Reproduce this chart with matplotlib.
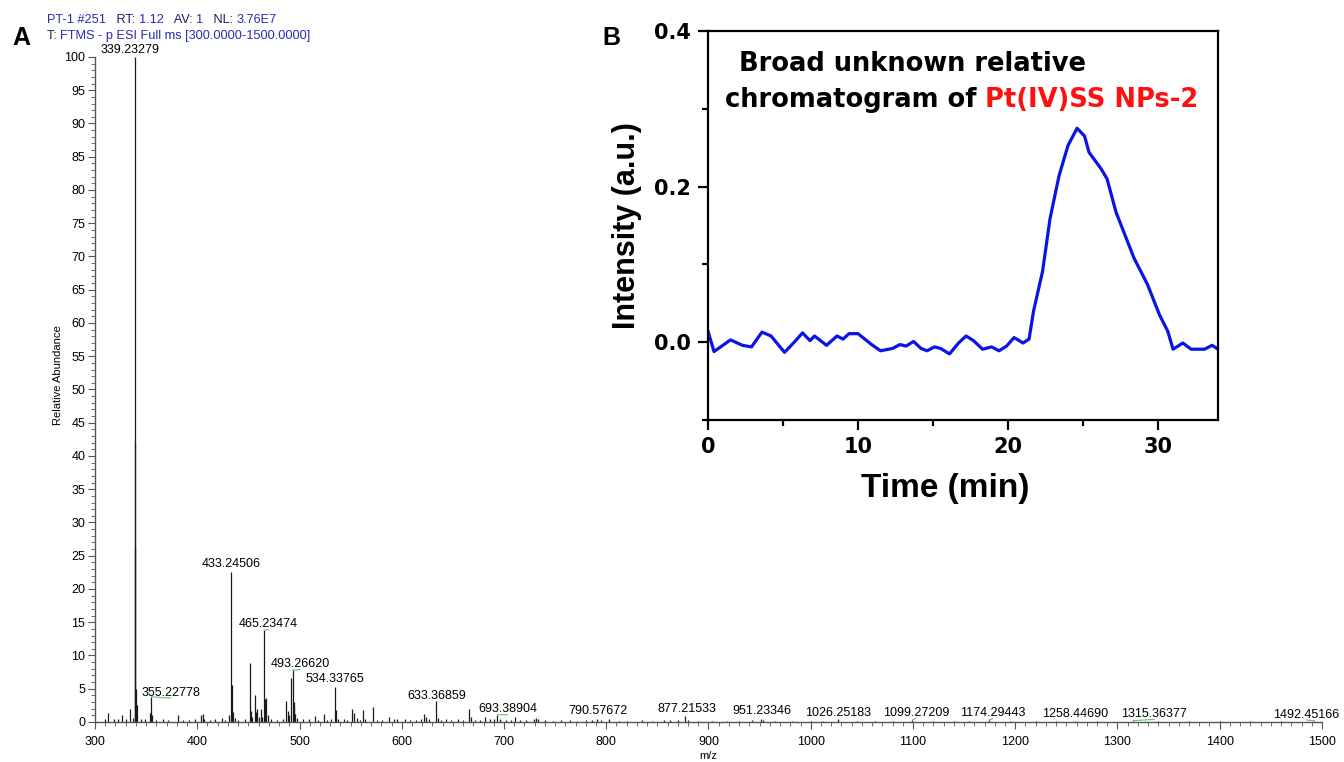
import matplotlib
matplotlib.use('Agg')
import matplotlib.pyplot as plt
from matplotlib.ticker import MultipleLocator, FormatStrFormatter


plt.rcParams['font.family'] = ['Liberation Sans', 'DejaVu Sans']

# 질량 스펙트럼 피크 (m/z, 상대 강도)
mz = [310.0, 313.0, 318.5, 322.0, 326.1, 330.0, 334.0, 337.2,
      339.233, 339.30, 339.36, 340.24, 341.0,
      345.0, 349.0, 353.6, 355.228, 356.2, 360.0, 366.0, 371.0, 380.9, 386.0, 392.0,
      397.9, 403.4, 405.3, 407.0, 412.0, 417.0, 424.6, 427.0, 431.3,
      433.245, 434.25, 435.2, 437.0, 440.0, 447.0, 451.2, 452.3, 454.0, 456.0, 457.0,
      458.4, 460.0, 461.9, 463.5, 465.235, 466.0, 467.6, 469.0, 472.0, 478.0, 484.0,
      486.8, 488.4, 490.0, 491.7, 493.266, 494.2, 495.0, 496.0, 497.5, 503.0, 509.0,
      515.0, 518.0, 524.0, 527.0, 530.5, 534.338, 535.9, 538.0, 543.5, 546.0, 551.5,
      553.0, 556.0, 559.0, 562.2, 564.0, 571.4, 576.0, 581.0, 587.6, 592.0, 595.0,
      603.0, 608.0, 614.0, 619.0, 621.8, 623.5, 627.0, 633.369, 635.0, 638.0, 643.5,
      648.0, 655.0, 660.0, 665.4, 667.3, 672.0, 677.0, 681.8, 686.5, 690.0, 693.389,
      696.0, 702.0, 707.0, 710.6, 716.0, 722.0, 729.5, 731.5, 733.5, 740.0, 748.0,
      756.0, 764.5, 771.0, 780.0, 786.0, 790.577, 795.0, 803.0, 812.0, 820.0, 834.6,
      845.0, 856.0, 862.0, 870.0, 877.215, 880.0, 890.0, 903.0, 918.0, 930.0, 943.0,
      951.233, 953.0, 965.0, 982.0, 1000.0, 1012.0, 1026.252, 1045.0, 1063.0, 1080.0,
      1099.272, 1120.0, 1140.0, 1155.0, 1174.294, 1195.0, 1220.0, 1240.0, 1258.447,
      1280.0, 1315.364, 1340.0, 1370.0, 1400.0, 1430.0, 1460.0, 1492.452]
abundance = [0.4, 1.3, 0.4, 0.5, 1.0, 0.4, 2.0, 0.6,
             100.0, 42.1, 26.1, 5.0, 2.5,
             0.4, 0.5, 1.3, 3.8, 1.0, 0.3, 0.4, 0.3, 1.0, 0.3, 0.3,
             0.5, 1.0, 1.2, 0.4, 0.3, 0.4, 0.6, 0.3, 1.0,
             22.6, 5.6, 1.5, 0.6, 0.3, 0.4, 8.9, 1.6, 0.8, 4.0, 1.5,
             2.0, 0.8, 2.0, 0.7, 13.8, 3.5, 3.6, 1.0, 0.4, 0.3, 0.5,
             3.1, 1.6, 1.0, 6.6, 7.8, 3.0, 2.2, 1.2, 0.6, 0.4, 0.4,
             0.9, 0.3, 1.2, 0.3, 0.4, 5.3, 1.8, 0.5, 0.5, 0.3, 2.0,
             1.3, 0.6, 0.3, 1.8, 0.5, 2.2, 0.3, 0.3, 0.7, 0.5, 0.4,
             0.4, 0.3, 0.3, 0.4, 1.2, 0.8, 0.4, 3.1, 0.6, 0.3, 0.4,
             0.3, 0.4, 0.3, 2.0, 0.7, 0.3, 0.3, 0.7, 0.5, 0.4, 1.1,
             0.4, 0.3, 0.3, 0.7, 0.3, 0.3, 0.5, 0.6, 0.4, 0.3, 0.2,
             0.3, 0.3, 0.2, 0.3, 0.3, 0.4, 0.3, 0.4, 0.2, 0.2, 0.3,
             0.2, 0.3, 0.3, 0.3, 0.9, 0.3, 0.2, 0.2, 0.2, 0.2, 0.3,
             0.5, 0.3, 0.2, 0.2, 0.2, 0.2, 0.4, 0.2, 0.2, 0.2,
             0.3, 0.2, 0.2, 0.2, 0.3, 0.2, 0.2, 0.2, 0.2,
             0.2, 0.2, 0.2, 0.2, 0.2, 0.2, 0.2, 0.2]

# 피크 라벨
peak_labels = ['339.23279', '355.22778', '433.24506', '465.23474', '493.26620',
               '534.33765', '633.36859', '693.38904', '790.57672', '877.21533',
               '951.23346', '1026.25183', '1099.27209', '1174.29443', '1258.44690',
               '1315.36377', '1492.45166']
peak_height = [100.0, 3.8, 22.6, 13.8, 7.8, 5.3, 3.1, 1.1, 0.4, 0.9,
               0.5, 0.4, 0.3, 0.3, 0.2, 0.2, 0.2]
label_x = [334.0, 374.0, 433.5, 469.5, 500.5, 535.0, 634.0, 703.5, 792.0, 878.5,
           952.0, 1027.0, 1103.0, 1178.0, 1259.0, 1336.0, 1485.0]
label_y = [100.2, 3.5, 22.8, 13.8, 7.8, 5.5, 3.0, 1.0, 0.8, 1.0,
           0.7, 0.5, 0.5, 0.4, 0.3, 0.3, 0.2]
leader = [False, True, False, True, True, False, False, True, False, False,
          False, False, True, True, False, True, True]

# 크로마토그램 (시간, 강도)
time_min = [0.0, 0.4, 1.5, 2.3, 2.9, 3.6, 4.2, 5.1, 5.7, 6.3, 6.8, 7.1, 7.9, 8.6, 9.0,
            9.4, 10.0, 10.9, 11.5, 12.3, 12.8, 13.2, 13.7, 14.2, 14.6, 15.1, 15.5,
            16.1, 16.7, 17.2, 17.7, 18.3, 18.9, 19.4, 19.9, 20.4, 21.0, 21.4, 21.7,
            22.3, 22.8, 23.4, 24.0, 24.6, 25.1, 25.4, 26.2, 26.6, 27.2, 28.4, 29.3,
            30.1, 30.65, 31.0, 31.65, 32.2, 33.1, 33.6, 34.0]
intensity = [0.014, -0.012, 0.003, -0.004, -0.006, 0.013, 0.008, -0.013, -0.001, 0.012,
             0.002, 0.008, -0.004, 0.008, 0.004, 0.011, 0.011, -0.003, -0.011, -0.008,
             -0.003, -0.005, 0.001, -0.008, -0.011, -0.006, -0.008, -0.015, -0.001,
             0.008, 0.002, -0.009, -0.006, -0.011, -0.005, 0.006, -0.001, 0.004, 0.040,
             0.091, 0.159, 0.214, 0.253, 0.275, 0.265, 0.244, 0.223, 0.210, 0.167,
             0.108, 0.074, 0.035, 0.014, -0.009, -0.001, -0.009, -0.009, -0.004, -0.009]

fig = plt.figure(figsize=(13.44, 7.62), dpi=100)

# A: 질량 스펙트럼
ax = fig.add_axes([0.0707, 0.0525, 0.9129, 0.8727])
ax.vlines(mz, 0, abundance, color='#1a1a1a', linewidth=0.9)
ax.set_xlim(300, 1500)
ax.set_ylim(0, 100)
for s in ['top', 'right']:
    ax.spines[s].set_visible(False)
for s in ['left', 'bottom']:
    ax.spines[s].set_color('#555555')
    ax.spines[s].set_linewidth(1.0)
ax.xaxis.set_major_locator(MultipleLocator(100))
ax.xaxis.set_minor_locator(MultipleLocator(10))
ax.yaxis.set_major_locator(MultipleLocator(5))
ax.yaxis.set_minor_locator(MultipleLocator(1))
ax.tick_params(which='major', length=5, width=0.8, color='#555555', labelsize=9)
ax.tick_params(axis='x', which='major', pad=5)
ax.tick_params(axis='y', which='major', pad=2)
ax.tick_params(which='minor', length=3, width=0.6, color='#555555')
ax.set_xlabel('m/z', fontsize=8, labelpad=2)
ax.set_ylabel('Relative Abundance', fontsize=8)
ax.yaxis.set_label_coords(-0.026, 0.522)

for txt, ph, lx, ly, lead in zip(peak_labels, peak_height, label_x, label_y, leader):
    if lead:
        ax.annotate(txt, xy=(float(txt), ph), xytext=(lx, ly), ha='center', va='bottom',
                    fontsize=9, annotation_clip=False,
                    arrowprops=dict(arrowstyle='-', color='#66c466', lw=0.8,
                                    shrinkA=0, shrinkB=0, relpos=(0.5, 0.05)))
    else:
        ax.text(lx, ly, txt, ha='center', va='bottom', fontsize=9, clip_on=False)

# 상단 헤더 (색상별로 이어 붙임)
navy = '#1c1c5a'
blue = '#2b2bb0'
prev = ax.annotate('PT-1 #251', xy=(0.035, 0.966), xycoords='figure fraction',
                   fontsize=9.2, color=blue, va='bottom', ha='left')
for s, c in [('   RT: ', navy), ('1.12', blue), ('   AV: ', navy), ('1', blue),
             ('   NL: ', navy), ('3.76E7', blue)]:
    prev = ax.annotate(s, xy=(1, 0), xycoords=prev, fontsize=9.2, color=c,
                       va='bottom', ha='left')
prev = ax.annotate('T: ', xy=(0.035, 0.945), xycoords='figure fraction',
                   fontsize=9.2, color=navy, va='bottom', ha='left')
ax.annotate('FTMS - p ESI Full ms [300.0000-1500.0000]', xy=(1, 0), xycoords=prev,
            fontsize=9.2, color=blue, va='bottom', ha='left')

fig.text(0.016, 0.950, 'A', fontsize=18, fontweight='bold', va='center', ha='center')
fig.text(0.455, 0.950, 'B', fontsize=18, fontweight='bold', va='center', ha='center')

# B: 크로마토그램 인셋
ax2 = fig.add_axes([0.5268, 0.4488, 0.3795, 0.5105])
ax2.set_facecolor('white')
ax2.plot(time_min, intensity, color='#0a14e6', linewidth=2.3)
ax2.set_xlim(0, 34)
ax2.set_ylim(-0.1, 0.4)
for s in ax2.spines.values():
    s.set_linewidth(1.6)
ax2.xaxis.set_major_locator(MultipleLocator(10))
ax2.xaxis.set_minor_locator(MultipleLocator(5))
ax2.yaxis.set_major_locator(MultipleLocator(0.2))
ax2.yaxis.set_minor_locator(MultipleLocator(0.1))
ax2.tick_params(which='major', length=7, width=1.6, labelsize=15, pad=5)
ax2.tick_params(which='minor', length=4, width=1.6)
ax2.yaxis.set_major_formatter(FormatStrFormatter('%.1f'))
for lab in ax2.get_xticklabels() + ax2.get_yticklabels():
    lab.set_fontweight('bold')
    lab.set_family(['DejaVu Sans'])
ax2.set_xlabel('Time (min)', fontsize=24, fontweight='bold')
ax2.xaxis.set_label_coords(0.465, -0.135)
ax2.set_ylabel('Intensity (a.u.)', fontsize=22, fontweight='bold', labelpad=9)

ax2.text(0.40, 0.915, 'Broad unknown relative', transform=ax2.transAxes,
         fontsize=18.5, fontweight='bold', ha='center', va='center',
         family=['DejaVu Sans'])
p = ax2.annotate('chromatogram of ', xy=(0.033, 0.823), xycoords='axes fraction',
                 fontsize=18.5, fontweight='bold', va='center', ha='left',
                 family=['DejaVu Sans'])
ax2.annotate('Pt(IV)SS NPs-2', xy=(1, 0), xycoords=p, fontsize=18.5,
             fontweight='bold', color='#ff1010', va='bottom', ha='left',
             family=['DejaVu Sans'])

fig.savefig('out.png', dpi=100)
